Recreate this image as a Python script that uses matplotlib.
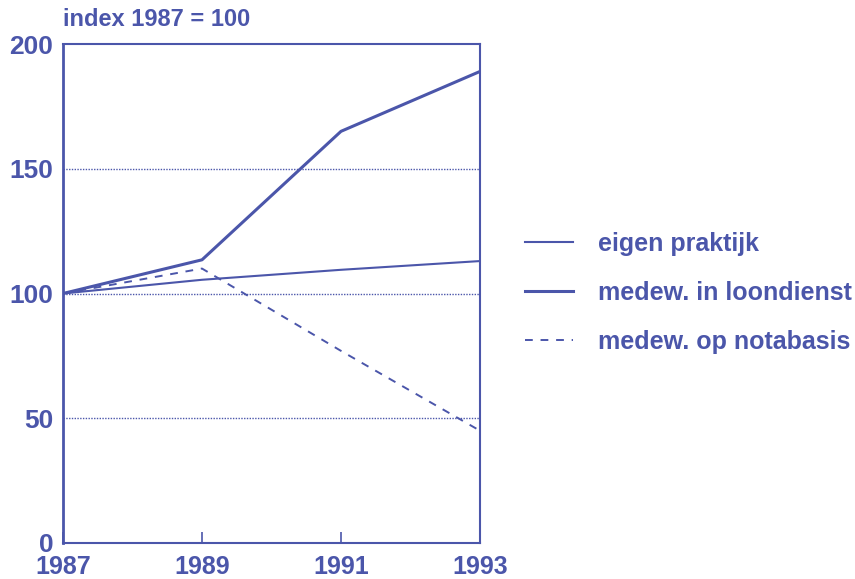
import matplotlib
matplotlib.use("Agg")
import matplotlib.pyplot as plt

years = [1987, 1989, 1991, 1993]
eigen_praktijk = [100, 105.5, 109.5, 113]
loondienst = [100, 113.5, 165, 189]
notabasis = [100, 110, 77, 45]
labels = ["eigen praktijk", "medew. in loondienst", "medew. op notabasis"]
yticks = [0, 50, 100, 150, 200]

C = "#4b56aa"
plt.rcParams['font.family'] = ['Liberation Sans', 'DejaVu Sans']
plt.rcParams['font.weight'] = 'bold'

fig = plt.figure(figsize=(8.55, 5.79), dpi=100)
ax = fig.add_axes([63/855, 36/579, (480-63)/855, (543-44)/579])

for y in [50, 100, 150]:
    ax.axhline(y, color=C, lw=1.0, ls=(0, (1, 1)), zorder=1)

l1, = ax.plot(years, eigen_praktijk, color=C, lw=1.5, zorder=3)
l2, = ax.plot(years, loondienst, color=C, lw=2.2, zorder=3)
l3, = ax.plot(years, notabasis, color=C, lw=1.4, ls=(0, (4, 4)), zorder=3)

ax.set_xlim(1987, 1993)
ax.set_ylim(0, 200)
ax.set_yticks(yticks)
ax.set_xticks(years)
ax.tick_params(axis='y', length=0, pad=7, labelsize=19, labelcolor=C)
ax.tick_params(axis='x', direction='in', length=8, width=1.2, color=C, pad=9,
               labelsize=18, labelcolor=C)
for s in ax.spines.values():
    s.set_color(C)
    s.set_linewidth(1.5)
ax.spines['left'].set_linewidth(2)

fig.text(63/855, 1 - 20/579, "index 1987 = 100", color=C, fontsize=17,
         ha='left', va='center')

fig.legend([l1, l2, l3], labels, loc='center left',
           bbox_to_anchor=(525/855, 1 - 293/579), frameon=False,
           fontsize=18, handlelength=1.9, handletextpad=1.0, labelspacing=1.0,
           borderpad=0, borderaxespad=0, labelcolor=C)

fig.savefig("out.png", dpi=100)
